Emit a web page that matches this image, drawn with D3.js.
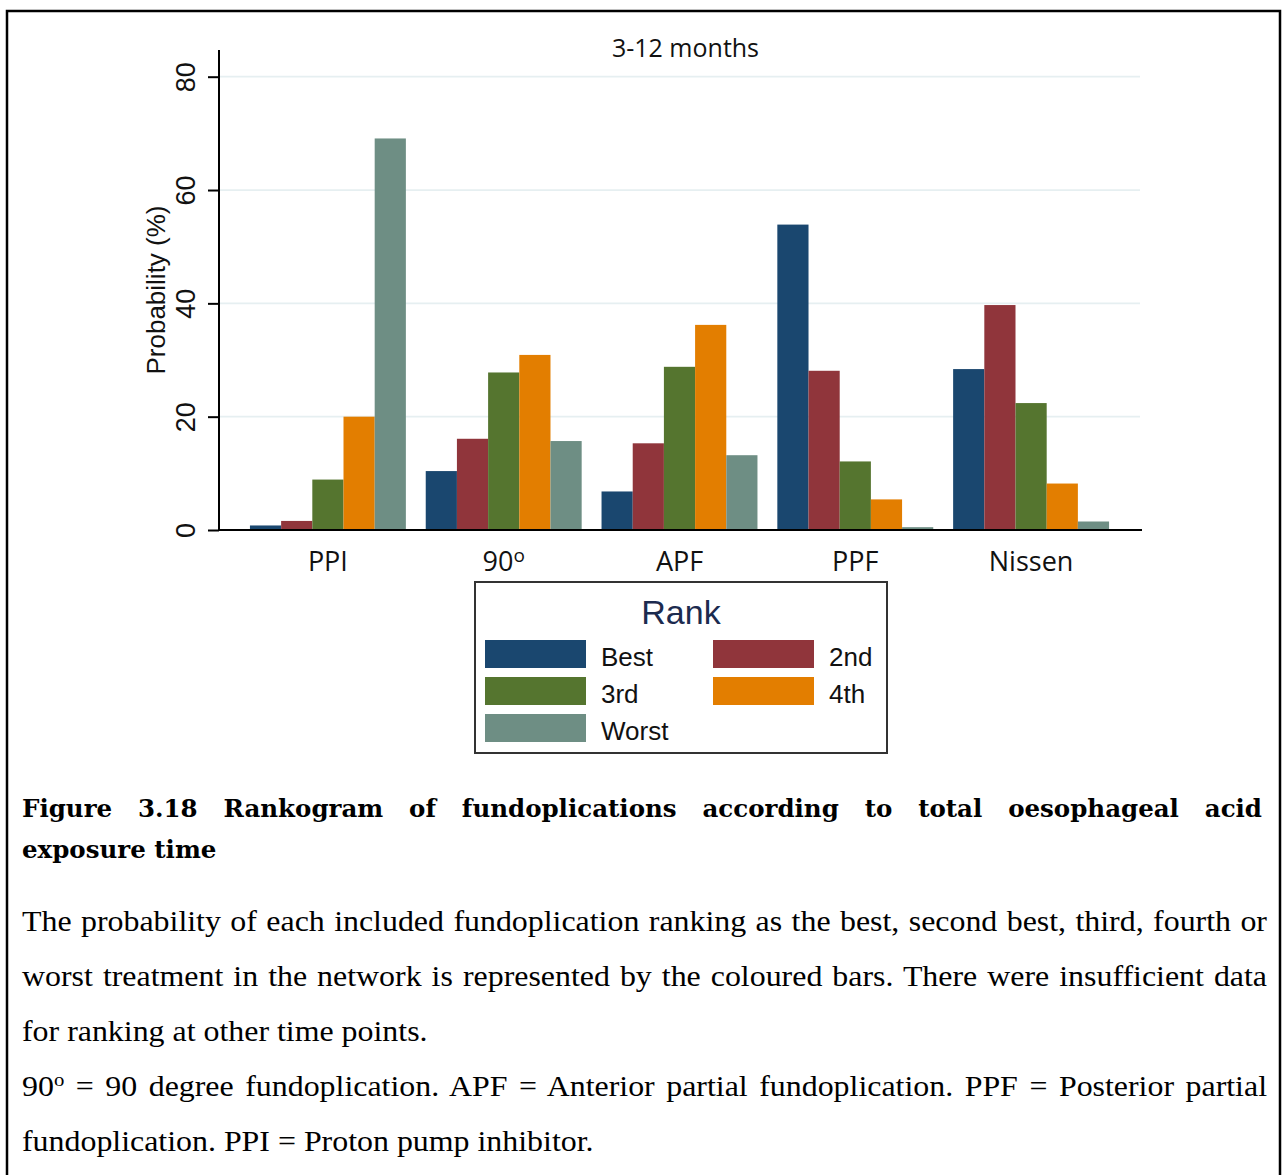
<!DOCTYPE html>
<html>
<head>
<meta charset="utf-8">
<script src="https://cdn.jsdelivr.net/npm/d3@7"></script>
<style>
  body { margin: 0; background: #fff; }
  svg { display: block; }
</style>
</head>
<body>
<div id="chart"></div>
<script>
// Data (probability %, 3-12 months)
const categories = ["PPI", "90", "APF", "PPF", "Nissen"];
const ranks = ["Best", "2nd", "3rd", "4th", "Worst"];
const best = [0.8, 10.4, 6.8, 53.9, 28.4];
const second = [1.6, 16.1, 15.3, 28.1, 39.7];
const third = [8.9, 27.8, 28.8, 12.1, 22.4];
const fourth = [20.0, 30.9, 36.2, 5.4, 8.2];
const worst = [69.1, 15.7, 13.2, 0.5, 1.5];
const yTicks = [0, 20, 40, 60, 80];
const colors = ["#1a476f", "#90353b", "#55752f", "#e37e00", "#6e8e84"];

const seriesValues = [best, second, third, fourth, worst];

const W = 1284, H = 1175;
const margin = { top: 50, left: 219, right: 144, bottom: 645 };
const width = W - margin.left - margin.right;   // 921
const plotBottom = 530;

const svg = d3.select("#chart").append("svg")
  .attr("width", W).attr("height", H);

// outer page frame
svg.append("path")
  .attr("d", `M7,${H} L7,11 L1280,11 L1280,${H}`)
  .attr("fill", "none").attr("stroke", "#000").attr("stroke-width", 2.5);

const g = svg.append("g").attr("transform", `translate(${margin.left},0)`);

// scales
const x0 = d3.scaleBand().domain(categories).range([0, width])
  .paddingInner(0.113).paddingOuter(0.176);
const x1 = d3.scaleBand().domain(ranks).range([0, x0.bandwidth()]);
const y = d3.scaleLinear().domain([0, 80]).range([plotBottom, 76.7]);

// gridlines
g.selectAll(".grid").data(yTicks.filter(d => d > 0)).enter()
  .append("line")
  .attr("x1", 0).attr("x2", width)
  .attr("y1", d => y(d)).attr("y2", d => y(d))
  .attr("stroke", "#e6eff1").attr("stroke-width", 1.8);

// bars
const groups = g.selectAll(".grp").data(categories).enter()
  .append("g").attr("transform", d => `translate(${x0(d)},0)`);

groups.selectAll("rect")
  .data((c, i) => ranks.map((r, k) => ({ rank: r, value: seriesValues[k][i], k })))
  .enter().append("rect")
  .attr("x", d => x1(d.rank))
  .attr("width", x1.bandwidth())
  .attr("y", d => y(d.value))
  .attr("height", d => y(0) - y(d.value))
  .attr("fill", d => colors[d.k]);

// y axis
const yAxis = g.append("g")
  .call(d3.axisLeft(y).tickValues(yTicks).tickSize(11).tickPadding(0).tickFormat(d3.format("d")));
yAxis.select(".domain").remove();
yAxis.selectAll(".tick line").attr("stroke", "#000").attr("stroke-width", 2);
yAxis.selectAll(".tick text")
  .attr("transform", "rotate(-90)")
  .attr("x", 0).attr("y", -24).attr("dy", 0)
  .attr("text-anchor", "middle")
  .style("font-family", "'Liberation Sans', Arial, sans-serif")
  .style("font-size", "27px")
  .attr("fill", "#111");
g.append("line")
  .attr("x1", 0).attr("x2", 0).attr("y1", 50).attr("y2", plotBottom + 1)
  .attr("stroke", "#000").attr("stroke-width", 2);

// x axis line
g.append("line")
  .attr("x1", -1).attr("x2", width + 2).attr("y1", plotBottom).attr("y2", plotBottom)
  .attr("stroke", "#000").attr("stroke-width", 2);

// x labels
const xl = g.selectAll(".xlab").data(categories).enter()
  .append("text")
  .attr("x", d => x0(d) + x0.bandwidth() / 2)
  .attr("y", 571)
  .attr("text-anchor", "middle")
  .style("font-family", "'Open Sans', sans-serif")
  .style("font-size", "27px")
  .attr("fill", "#111")
  .text(d => d);
xl.filter(d => d === "90").append("tspan")
  .attr("dy", -9).style("font-size", "19px").text("o");

// y axis title
g.append("text")
  .attr("transform", `translate(-54,${(50 + plotBottom) / 2}) rotate(-90)`)
  .attr("text-anchor", "middle")
  .style("font-family", "'Liberation Sans', Arial, sans-serif")
  .style("font-size", "26px")
  .attr("fill", "#111")
  .text("Probability (%)");

// chart title
g.append("text")
  .attr("x", width / 2 + 6).attr("y", 57)
  .attr("text-anchor", "middle")
  .style("font-family", "'Open Sans', sans-serif")
  .style("font-size", "25px")
  .attr("fill", "#111")
  .text("3-12 months");

// legend
const leg = svg.append("g").attr("transform", "translate(475,582)");
leg.append("rect")
  .attr("width", 412).attr("height", 171)
  .attr("fill", "#fff").attr("stroke", "#333").attr("stroke-width", 2);
leg.append("text")
  .attr("x", 206).attr("y", 42)
  .attr("text-anchor", "middle")
  .style("font-family", "'Liberation Sans', Arial, sans-serif")
  .style("font-size", "34px")
  .attr("fill", "#1c2b4f")
  .text("Rank");
const items = leg.selectAll(".li").data(ranks).enter()
  .append("g")
  .attr("transform", (d, i) => `translate(${10 + (i % 2) * 228},${58 + Math.floor(i / 2) * 37})`);
items.append("rect")
  .attr("width", 101).attr("height", 28)
  .attr("fill", (d, i) => colors[i]);
items.append("text")
  .attr("x", 116).attr("y", 26)
  .style("font-family", "'Liberation Sans', Arial, sans-serif")
  .style("font-size", "26px")
  .attr("fill", "#111")
  .text(d => d);

// caption, justified by spreading the word gaps; sx stretches glyphs sideways
function captionLine(parts, yPos, opts) {
  const sx = opts.sx || 1;
  const t = svg.append("g")
    .attr("transform", `translate(${opts.left},${yPos}) scale(${sx},1)`)
    .append("text")
    .style("font-family", opts.font)
    .style("font-size", opts.size + "px")
    .style("font-weight", opts.weight || "normal")
    .attr("fill", "#000");
  parts.forEach(p => {
    const s = t.append("tspan").text(p.text);
    if (p.sup) s.attr("dy", -opts.size * 0.35).style("font-size", (opts.size * 0.65) + "px");
    if (p.after) s.attr("dy", opts.size * 0.35);
  });
  if (opts.justify) {
    const full = parts.map(p => p.text).join("");
    const spaces = (full.match(/ /g) || []).length;
    const natural = t.node().getComputedTextLength();
    const ws = Math.max(0, ((opts.right - opts.left) / sx - natural) / spaces);
    t.attr("word-spacing", ws);
  }
}

const head = { left: 22, right: 1262, font: "'DejaVu Serif', serif", size: 24.5, weight: "bold" };
captionLine([{ text: "Figure 3.18 Rankogram of fundoplications according to total oesophageal acid" }], 817, { ...head, justify: true });
captionLine([{ text: "exposure time" }], 858, head);

const body = { left: 22, right: 1267, font: "'Liberation Serif', 'Times New Roman', serif", size: 29, sx: 1.1 };
captionLine([{ text: "The probability of each included fundoplication ranking as the best, second best, third, fourth or" }], 931, { ...body, justify: true });
captionLine([{ text: "worst treatment in the network is represented by the coloured bars. There were insufficient data" }], 986, { ...body, justify: true });
captionLine([{ text: "for ranking at other time points." }], 1041, body);
captionLine([{ text: "90" }, { text: "o", sup: true }, { text: " = 90 degree fundoplication. APF = Anterior partial fundoplication. PPF = Posterior partial", after: true }], 1096, { ...body, justify: true });
captionLine([{ text: "fundoplication. PPI = Proton pump inhibitor." }], 1151, body);
</script>
</body>
</html>
